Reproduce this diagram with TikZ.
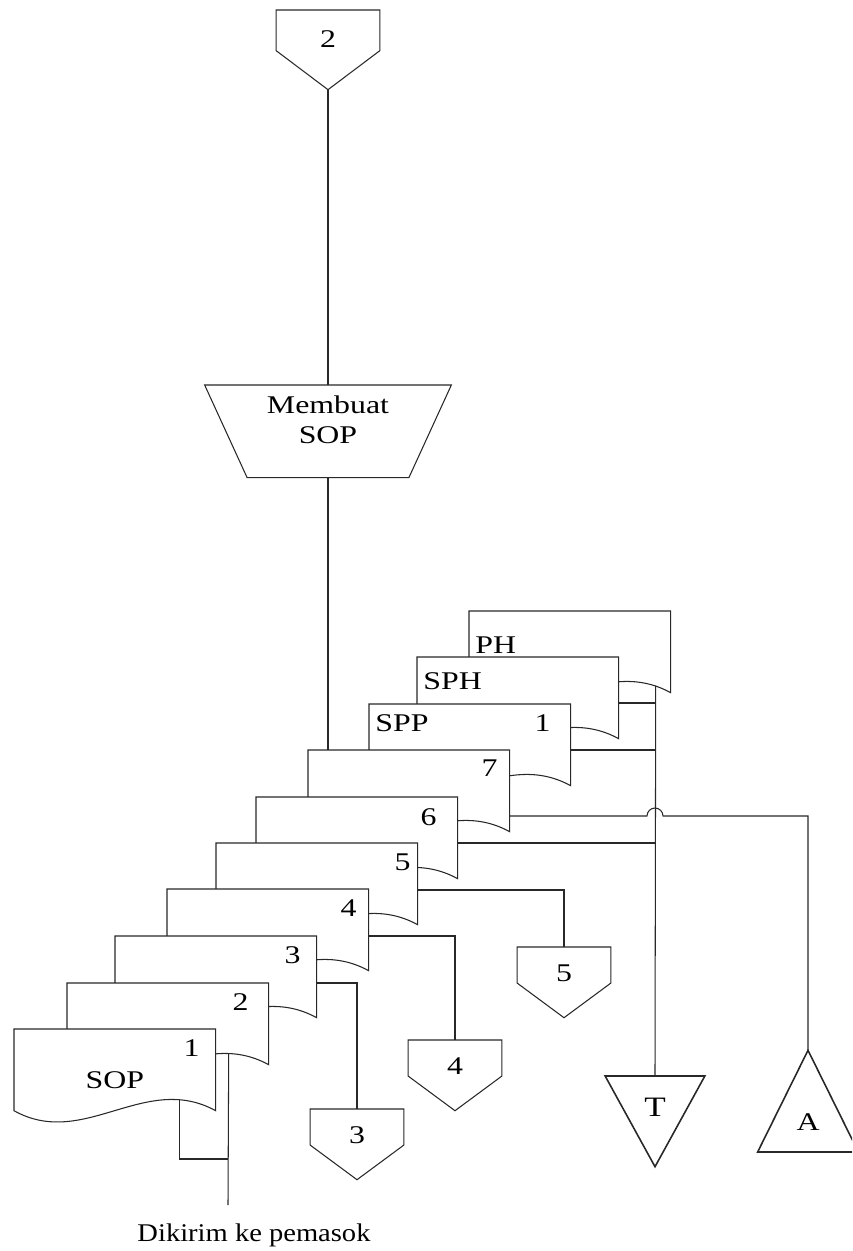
\documentclass[tikz,border=0pt]{standalone}
\usepackage{fontspec}
\setmainfont{Liberation Serif}[FakeStretch=1.25]
\newfontfamily\notefont{Liberation Serif}[FakeStretch=1.12]
\usetikzlibrary{calc,positioning}
\definecolor{fcInk}{RGB}{40,40,40}

% document sheet: invisible box plus wavy outline
\newcommand{\sheet}[3]{%
  \node[sheet] (#1) at (#2,#3) {};
  \draw[flow,fill=white] (#1.north west) -- (#1.north east) -- (#1.south east)
    .. controls ([xshift=-14.2mm,yshift=7.8mm]#1.south east)
       and ([xshift=14mm,yshift=-7.8mm]#1.south west) .. (#1.south west) -- cycle;
}
% off-page connector (pentagon)
\newcommand{\offpage}[4][]{%
  \node[offpg,#1] (#2) at #3 {};
  \draw[flow,fill=white] (#2.north west) -- (#2.north east)
    -- ($(#2.north east)!0.51!(#2.south east)$) -- (#2.south)
    -- ($(#2.north west)!0.51!(#2.south west)$) -- cycle;
  \node[lbl] (#2-t) at ($(#2.north)!0.37!(#2.south)$) {#4};
}

\begin{document}
\begin{tikzpicture}[
  x=0.2mm,y=-0.2mm,
  font=\fontsize{14.5}{17}\selectfont,
  flow/.style={draw=fcInk,line width=0.6pt},
  thickflow/.style={draw=fcInk,line width=0.9pt},
  sheet/.style={rectangle,draw=none,minimum width=40.2mm,minimum height=16.2mm,
                inner sep=0pt,anchor=north west},
  offpg/.style={rectangle,draw=none,minimum width=18.6mm,minimum height=14mm,
                inner sep=0pt,anchor=north},
  blank/.style={rectangle,draw=none,inner sep=0pt},
  lbl/.style={inner sep=0pt,text=black},
  tag/.style={lbl,anchor=center}
]
\clip (0,0) rectangle (852,1251);

% --- top connector and process
\offpage[minimum width=20.6mm,minimum height=15.8mm]{c2}{(328,10)}{2}
\node[blank,minimum width=49.2mm,minimum height=18.4mm,anchor=north] (mk) at (328,385) {};
\draw[flow] (mk.north west) -- (mk.north east) -- ([xshift=-8.5mm]mk.south east)
  -- ([xshift=8.5mm]mk.south west) -- cycle;
\node[lbl,align=center] (mk-t) at ([yshift=-7mm]mk.north) {Membuat\\SOP};

% --- document stack, back to front
\sheet{ph}{469}{611}
\sheet{sph}{417}{657}
\sheet{spp}{369}{704}
\sheet{d7}{308}{750}
\sheet{d6}{256}{797}
\sheet{d5}{216}{843}
\sheet{d4}{167}{889}
\sheet{d3}{115}{936}
\sheet{d2}{67}{983}
\sheet{d1}{14}{1029}

\node[lbl,anchor=west] (ph-t) at ([xshift=1.2mm,yshift=-6.8mm]ph.north west) {PH};
\node[lbl,anchor=west] (sph-t) at ([xshift=1.2mm,yshift=-4.8mm]sph.north west) {SPH};
\node[lbl,anchor=west] (spp-t) at ([xshift=1.2mm,yshift=-3.8mm]spp.north west) {SPP};
\node[tag] (spp-n) at ([xshift=-5.6mm,yshift=-3.8mm]spp.north east) {1};
\node[tag] (d7-n) at ([xshift=-4mm,yshift=-3.6mm]d7.north east) {7};
\node[tag] (d6-n) at ([xshift=-5.8mm,yshift=-4mm]d6.north east) {6};
\node[tag] (d5-n) at ([xshift=-3mm,yshift=-3.8mm]d5.north east) {5};
\node[tag] (d4-n) at ([xshift=-4mm,yshift=-3.8mm]d4.north east) {4};
\node[tag] (d3-n) at ([xshift=-4.8mm,yshift=-3.8mm]d3.north east) {3};
\node[tag] (d2-n) at ([xshift=-5.6mm,yshift=-3.8mm]d2.north east) {2};
\node[tag] (d1-n) at ([xshift=-4.8mm,yshift=-3.8mm]d1.north east) {1};
\node[tag] (d1-t) at ([yshift=-10.2mm]d1.north) {SOP};

% --- terminals
\node[blank,minimum width=19.8mm,minimum height=18mm,anchor=north] (tT) at (655,1076) {};
\draw[thickflow] (tT.north west) -- (tT.north east) -- (tT.south) -- cycle;
\node[lbl,font=\fontsize{16}{18}\selectfont] (tT-t) at ([yshift=-6.2mm]tT.north) {T};
\node[blank,minimum width=20mm,minimum height=20.2mm,anchor=south] (tA) at (808,1152) {};
\draw[thickflow] (tA.south west) -- (tA.south east) -- (tA.north) -- cycle;
\node[lbl] (tA-t) at ([yshift=6mm]tA.south) {A};

\offpage{c5}{(564,947)}{5}
\offpage{c4}{(455,1040)}{4}
\offpage{c3}{(357,1109)}{3}

% --- taps on the sheets
\coordinate (ph-tap) at ([xshift=-3mm,yshift=1.4mm]ph.south east);
\coordinate (d2-tap) at ([xshift=-8mm,yshift=2.3mm]d2.south east);
\coordinate (d1-tap) at ([xshift=-7.2mm,yshift=2.2mm]d1.south east);
\coordinate (sph-out) at ([yshift=-9.2mm]sph.north east);
\coordinate (spp-out) at ([yshift=-9.2mm]spp.north east);
\coordinate (d7-out) at ([yshift=-13.2mm]d7.north east);
\coordinate (d6-out) at ([yshift=-9.2mm]d6.north east);
\coordinate (d5-out) at ([yshift=-9.4mm]d5.north east);
\coordinate (d4-out) at ([yshift=-9.4mm]d4.north east);
\coordinate (d3-out) at ([yshift=-9.4mm]d3.north east);
\coordinate (hop) at (d7-out -| tT.north);
\coordinate (sent) at (228,1205);
\coordinate (join) at (228,1159);

% --- connectors
\draw[flow] (c2.south) -- (mk.north);
\draw[flow] (mk.south) -- (mk.south |- d7.north);
\draw[flow] (ph-tap) -- (tT.north);
\draw[flow] (sph-out) -- (sph-out -| tT.north);
\draw[flow] (spp-out) -- (spp-out -| tT.north);
\draw[flow] (d7-out) -- ([xshift=-1.6mm]hop) arc[start angle=180,end angle=0,radius=1.6mm]
  -- (d7-out -| tA.north) -- (tA.north);
\draw[flow] (d6-out) -- (d6-out -| tT.north);
\draw[flow] (d5-out) -| (c5.north);
\draw[flow] (d4-out) -| (c4.north);
\draw[flow] (d3-out) -| (c3.north);
\draw[flow] (d2-tap) -- (sent);
\draw[flow] (d1-tap) |- (join);

\node[lbl,font={\notefont\fontsize{14.5}{17}\selectfont}] (dest) at (254,1235) {Dikirim ke pemasok};
\end{tikzpicture}
\end{document}
